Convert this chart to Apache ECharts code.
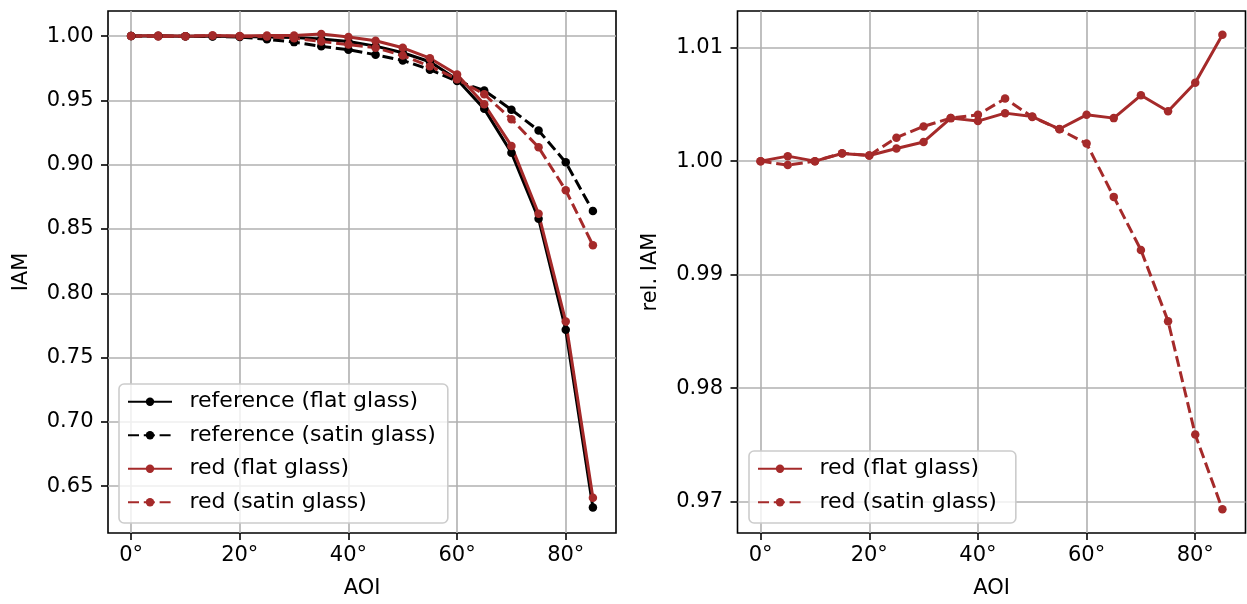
<!DOCTYPE html>
<html>
<head>
<meta charset="utf-8">
<script src="https://cdn.jsdelivr.net/npm/echarts@6/dist/echarts.min.js"></script>
<style>
  html, body { margin: 0; padding: 0; background: #fff; }
  #chart { width: 1247px; height: 604px; }
</style>
</head>
<body>
<div id="chart"></div>
<script>
// Angle of incidence (degrees)
const aoi = [0, 5, 10, 15, 20, 25, 30, 35, 40, 45, 50, 55, 60, 65, 70, 75, 80, 85];

// Incidence angle modifier, left panel
const refFlat  = [1.0000, 1.0000, 0.9999, 0.9998, 0.9996, 0.9993, 0.9988, 0.9978, 0.9958, 0.9922, 0.9870, 0.9800, 0.9662, 0.9434, 0.9093, 0.8580, 0.7717, 0.6335];
const refSatin = [1.0000, 1.0000, 0.9999, 0.9997, 0.9993, 0.9975, 0.9953, 0.9920, 0.9894, 0.9855, 0.9811, 0.9739, 0.9650, 0.9577, 0.9428, 0.9266, 0.9018, 0.8639];
const redFlat  = [1.0000, 1.0004, 0.9999, 1.0005, 1.0001, 1.0004, 1.0005, 1.0016, 0.9993, 0.9964, 0.9909, 0.9828, 0.9701, 0.9470, 0.9146, 0.8618, 0.7780, 0.6410];
const redSatin = [1.0000, 0.9997, 0.9999, 1.0004, 0.9998, 0.9996, 0.9983, 0.9958, 0.9934, 0.9909, 0.9849, 0.9766, 0.9665, 0.9547, 0.9354, 0.9135, 0.8801, 0.8374];

// Relative IAM (red / reference), right panel
const relFlat  = [1.0000, 1.00044, 1.0000, 1.00067, 1.0005, 1.00111, 1.00169, 1.00379, 1.00353, 1.00423, 1.00393, 1.00283, 1.00408, 1.00379, 1.0058, 1.0044, 1.0069, 1.01114];
const relSatin = [1.0000, 0.99965, 1.0000, 1.0007, 1.0005, 1.00207, 1.00306, 1.00379, 1.00408, 1.00551, 1.0039, 1.0028, 1.00155, 0.99685, 0.99217, 0.9859, 0.9759, 0.96932];

// Tick positions
const xTicks = [0, 20, 40, 60, 80];
const yTicksLeft = [0.65, 0.70, 0.75, 0.80, 0.85, 0.90, 0.95, 1.00];
const yTicksRight = [0.97, 0.98, 0.99, 1.00, 1.01];

const BLACK = '#000000';
const RED = '#a52a2a';
const DASH = [11, 4.8];
const FONT = 'DejaVu Sans';
const FS = 21;

function pairs(ys) { return aoi.map((x, i) => [x, ys[i]]); }

function xAxisCfg(gridIndex) {
  return {
    type: 'value', gridIndex, min: -4.25, max: 89.25,
    name: 'AOI', nameLocation: 'middle', nameGap: 45,
    nameTextStyle: { fontFamily: FONT, fontSize: FS, color: BLACK },
    axisLine: { show: false, onZero: false },
    axisTick: { show: true, length: 7, customValues: xTicks, lineStyle: { color: BLACK, width: 1.6 } },
    axisLabel: { customValues: xTicks, margin: 12, fontFamily: FONT, fontSize: FS, color: BLACK, formatter: v => v + '°' },
    splitLine: { show: true, lineStyle: { color: '#b0b0b0', width: 1.6 } }
  };
}

function yAxisCfg(gridIndex, name, min, max, ticks, gap) {
  return {
    type: 'value', gridIndex, min, max,
    name, nameLocation: 'middle', nameGap: gap,
    nameTextStyle: { fontFamily: FONT, fontSize: FS, color: BLACK },
    axisLine: { show: false, onZero: false },
    axisTick: { show: true, length: 7, customValues: ticks, lineStyle: { color: BLACK, width: 1.6 } },
    axisLabel: { customValues: ticks, margin: 14.5, fontFamily: FONT, fontSize: FS, color: BLACK, formatter: v => v.toFixed(2) },
    splitLine: { show: true, lineStyle: { color: '#b0b0b0', width: 1.6 } }
  };
}

function line(name, xi, data, color, dashed) {
  return {
    name, type: 'line', xAxisIndex: xi, yAxisIndex: xi, data: pairs(data),
    symbol: 'circle', symbolSize: 8.5, showSymbol: true,
    itemStyle: { color },
    lineStyle: { color, width: 3, type: dashed ? DASH : 'solid' },
    emphasis: { disabled: true }
  };
}

const legendBase = {
  orient: 'vertical', itemWidth: 44, itemHeight: 10.5, itemGap: 10,
  backgroundColor: 'rgba(255,255,255,0.8)', borderColor: '#cccccc', borderWidth: 1.6, borderRadius: 5,
  textStyle: { fontFamily: FONT, fontSize: 22, color: BLACK, lineHeight: 23.5, padding: [0, 0, 0, 12.5] },
  selectedMode: false
};

const chart = echarts.init(document.getElementById('chart'), null, { renderer: 'canvas' });
chart.setOption({
  animation: false,
  backgroundColor: '#ffffff',
  grid: [
    { left: 108, top: 11, width: 508, height: 524, show: true, borderColor: BLACK, borderWidth: 1.6, backgroundColor: 'transparent' },
    { left: 737.5, top: 11, width: 508, height: 524, show: true, borderColor: BLACK, borderWidth: 1.6, backgroundColor: 'transparent' }
  ],
  xAxis: [xAxisCfg(0), xAxisCfg(1)],
  yAxis: [
    yAxisCfg(0, 'IAM', 0.6136, 1.0195, yTicksLeft, 75.5),
    yAxisCfg(1, 'rel. IAM', 0.96723, 1.01323, yTicksRight, 76)
  ],
  legend: [
    Object.assign({}, legendBase, {
      left: 119, top: 384, padding: [6, 12, 9, 8],
      data: ['reference (flat glass)', 'reference (satin glass)', 'red (flat glass)', 'red (satin glass)']
    }),
    Object.assign({}, legendBase, {
      left: 749, top: 451, padding: [6, 12, 9, 8],
      data: ['red (flat glass) ', 'red (satin glass) ']
    })
  ],
  series: [
    line('reference (flat glass)', 0, refFlat, BLACK, false),
    line('reference (satin glass)', 0, refSatin, BLACK, true),
    line('red (flat glass)', 0, redFlat, RED, false),
    line('red (satin glass)', 0, redSatin, RED, true),
    line('red (flat glass) ', 1, relFlat, RED, false),
    line('red (satin glass) ', 1, relSatin, RED, true)
  ]
});
</script>
</body>
</html>
